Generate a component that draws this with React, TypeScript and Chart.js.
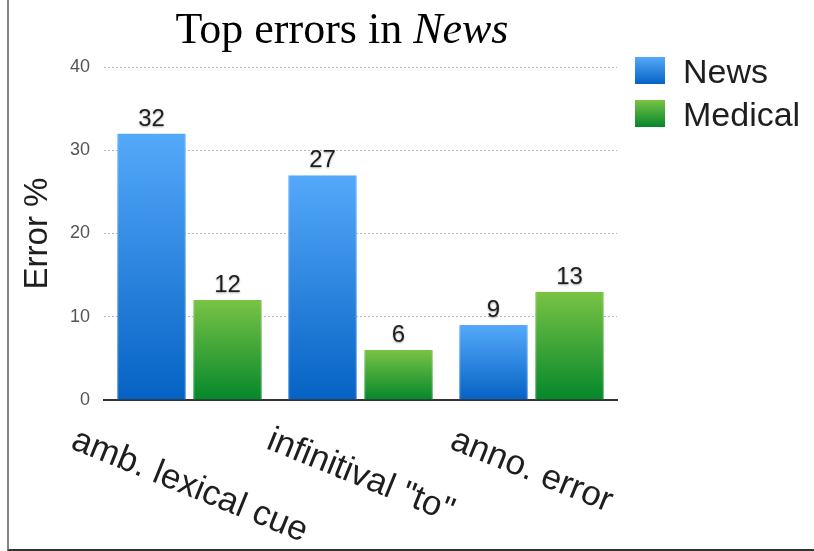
import { useEffect, useRef } from 'react';
import { Chart, registerables } from 'chart.js';

Chart.register(...registerables);

// ---- data ----
const categories = ['amb. lexical cue', 'infinitival "to"', 'anno. error'];
const newsErrors = [32, 27, 9];
const medicalErrors = [12, 6, 13];
const seriesNames = ['News', 'Medical'];
const yTicks = [0, 10, 20, 30, 40];
const titlePlain = 'Top errors in ';
const titleItalic = 'News';
const yAxisTitle = 'Error %';

// ---- styling ----
const SANS = '"Liberation Sans", Arial, Helvetica, sans-serif';
const SERIF = '"Liberation Serif", "Times New Roman", serif';
const TEXT = '#1e1e1e';

const BLUE = { top: '#55a9fa', bottom: '#0562c4', edgeTop: '#86c2fc', edgeBottom: '#4a8fd8' };
const GREEN = { top: '#79c345', bottom: '#04872b', edgeTop: '#a2d678', edgeBottom: '#4aa865' };
const palettes = [BLUE, GREEN];

const LABEL_ANGLE = (22 * Math.PI) / 180;

// vertical gradient spanning a single bar, from its top down to the zero line
function barGradient(ctx: any, topColor: string, bottomColor: string) {
  const chart = ctx.chart;
  if (!chart.chartArea || ctx.type !== 'data') return bottomColor;
  const y = chart.scales.y;
  const v = ctx.raw as number;
  const yTop = y.getPixelForValue(v);
  const yBase = y.getPixelForValue(0);
  const g = chart.ctx.createLinearGradient(0, yTop, 0, yBase);
  g.addColorStop(0, topColor);
  g.addColorStop(1, bottomColor);
  return g;
}

function fillSwatch(c: CanvasRenderingContext2D, x: number, y: number, w: number, h: number, p: typeof BLUE) {
  const g = c.createLinearGradient(0, y, 0, y + h);
  g.addColorStop(0, p.top);
  g.addColorStop(1, p.bottom);
  c.fillStyle = g;
  c.fillRect(x, y, w, h);
}

const decorations = {
  id: 'decorations',
  afterDraw(chart: any) {
    const c: CanvasRenderingContext2D = chart.ctx;
    const area = chart.chartArea;
    c.save();

    // title with italic tail
    c.fillStyle = '#000';
    c.textBaseline = 'alphabetic';
    c.textAlign = 'left';
    const fPlain = `44px ${SERIF}`;
    const fItalic = `italic 44px ${SERIF}`;
    c.font = fPlain;
    const w1 = c.measureText(titlePlain).width;
    c.font = fItalic;
    const w2 = c.measureText(titleItalic).width;
    const tx = 342 - (w1 + w2) / 2;
    c.font = fPlain;
    c.fillText(titlePlain, tx, 43);
    c.font = fItalic;
    c.fillText(titleItalic, tx + w1, 43);

    // legend
    c.font = `34px ${SANS}`;
    c.fillStyle = TEXT;
    seriesNames.forEach((name, i) => {
      const top = 57 + i * 43;
      fillSwatch(c, 635, top, 30, 27, palettes[i]);
      c.fillStyle = TEXT;
      c.fillText(name, 683, top + 26);
    });

    // value labels above bars
    c.font = `24px ${SANS}`;
    c.textAlign = 'center';
    c.textBaseline = 'alphabetic';
    chart.data.datasets.forEach((ds: any, di: number) => {
      const meta = chart.getDatasetMeta(di);
      meta.data.forEach((el: any, i: number) => {
        c.save();
        c.shadowColor = 'rgba(0,0,0,0.35)';
        c.shadowBlur = 2;
        c.shadowOffsetY = 1;
        c.fillStyle = TEXT;
        c.fillText(String(ds.data[i]), el.x, el.y - 8);
        c.restore();
      });
    });

    // rotated category labels
    const xs = chart.scales.x;
    c.font = `35px ${SANS}`;
    c.fillStyle = TEXT;
    c.textAlign = 'center';
    c.textBaseline = 'middle';
    categories.forEach((label, i) => {
      const cx = xs.getPixelForValue(i);
      const w = c.measureText(label).width;
      const cy = area.bottom + 39 + (w / 2) * Math.sin(LABEL_ANGLE);
      c.save();
      c.translate(cx, cy);
      c.rotate(LABEL_ANGLE);
      c.fillText(label, 0, 0);
      c.restore();
    });

    c.restore();
  },
};

export default function App() {
  const canvasRef = useRef<HTMLCanvasElement | null>(null);

  useEffect(() => {
    const canvas = canvasRef.current;
    if (!canvas) return;
    const chart = new Chart(canvas, {
      type: 'bar',
      data: {
        labels: categories,
        datasets: [newsErrors, medicalErrors].map((values, i) => ({
          label: seriesNames[i],
          data: values,
          backgroundColor: (ctx: any) => barGradient(ctx, palettes[i].top, palettes[i].bottom),
          borderColor: (ctx: any) => barGradient(ctx, palettes[i].edgeTop, palettes[i].edgeBottom),
          borderWidth: { left: 1, right: 1, top: 0, bottom: 0 },
          borderSkipped: false,
          categoryPercentage: 0.889,
          barPercentage: 0.905,
        })),
      },
      options: {
        responsive: false,
        animation: false,
        devicePixelRatio: 1,
        layout: { padding: { top: 67, right: 197, bottom: 0, left: 0 } },
        plugins: {
          legend: { display: false },
          title: { display: false },
          tooltip: { enabled: false },
        },
        scales: {
          x: {
            grid: { display: false, drawTicks: false },
            border: { display: true, color: '#333', width: 2 },
            ticks: { display: false },
            afterFit: (s: any) => {
              s.height = 151;
            },
          },
          y: {
            min: yTicks[0],
            max: yTicks[yTicks.length - 1],
            afterBuildTicks: (s: any) => {
              s.ticks = yTicks.map((v) => ({ value: v }));
            },
            grid: {
              color: (ctx: any) => (ctx.tick && ctx.tick.value === 0 ? 'rgba(0,0,0,0)' : '#b4b4b4'),
              lineWidth: 1,
              drawTicks: false,
            },
            border: { display: false, dash: [2, 2] },
            ticks: {
              padding: 14,
              color: '#555',
              font: { family: SANS, size: 18 },
            },
            title: {
              display: true,
              text: yAxisTitle,
              color: TEXT,
              font: { family: SANS, size: 33 },
              padding: { top: 18, bottom: 0 },
            },
            afterFit: (s: any) => {
              s.width = 104;
            },
          },
        },
      },
      plugins: [decorations],
    });
    return () => chart.destroy();
  }, []);

  return (
    <div style={{ position: 'fixed', left: 0, top: 0, width: 814, height: 551, background: '#fff' }}>
      <canvas ref={canvasRef} width={814} height={551} style={{ display: 'block' }} />
      <div
        style={{
          position: 'absolute',
          left: 7,
          top: 0,
          width: 807,
          height: 551,
          boxSizing: 'border-box',
          borderLeft: '2px solid #858585',
          borderBottom: '2px solid #333',
          pointerEvents: 'none',
        }}
      />
    </div>
  );
}
